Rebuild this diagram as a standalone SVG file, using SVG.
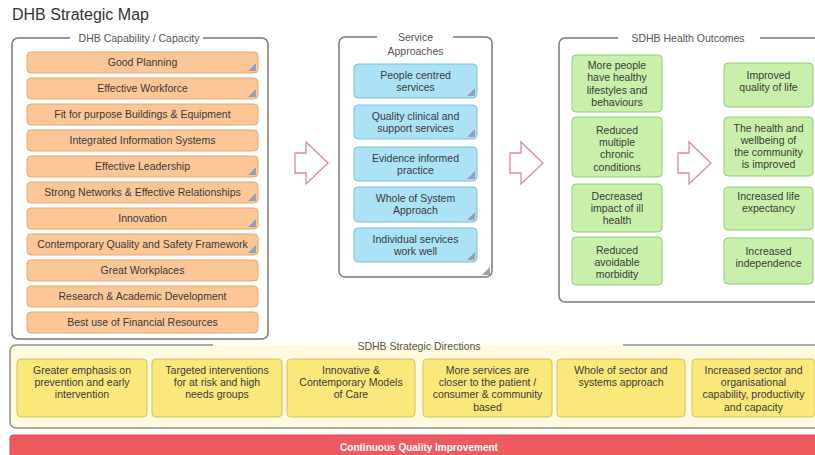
<svg xmlns="http://www.w3.org/2000/svg" xmlns:xlink="http://www.w3.org/1999/xlink" width="815" height="455" viewBox="0 0 815 455">
<style>
text{font-family:"Liberation Sans",Arial,sans-serif;font-size:10.5px;fill:#3a3a3a;text-anchor:middle}
.title{font-size:16px;fill:#333;text-anchor:start}
.ct{fill:#555}
.frame{fill:none;stroke:#7a7a7a;stroke-width:1.5}
.or{fill:#fcc697;stroke:#e3a774;stroke-width:1}
.bl{fill:#abe2f6;stroke:#7cc0db;stroke-width:1}
.gr{fill:#c8f0aa;stroke:#92cd74;stroke-width:1}
.ye{fill:#fbe87a;stroke:#d6c15c;stroke-width:1}
.arr{fill:#fff;stroke:#d98a98;stroke-width:1.3;stroke-linejoin:miter}
.cm{fill:#95a0b4}
.ql{fill:#fff;font-weight:bold;font-size:10px}
</style>
<defs>
<path id="cm" d="M-2,-10 L-2,-2 L-10,-2 Z"/>
</defs>

<text class="title" x="12" y="19.5">DHB Strategic Map</text>

<!-- Left container -->
<g id="capability">
<path class="frame" d="M203,38 H262 A6,6 0 0 1 268,44 V333 A6,6 0 0 1 262,339 H18 A6,6 0 0 1 12,333 V44 A6,6 0 0 1 18,38 H70"/>
<text class="ct" x="139" y="42">DHB Capability / Capacity</text>
</g>
<g id="cap1"><rect class="or" x="27" y="52" width="231" height="21" rx="4"/><text x="142.5" y="66">Good Planning</text><use href="#cm" class="cm" x="258" y="73"/></g>
<g id="cap2"><rect class="or" x="27" y="78" width="231" height="21" rx="4"/><text x="142.5" y="92">Effective Workforce</text><use href="#cm" class="cm" x="258" y="99"/></g>
<g id="cap3"><rect class="or" x="27" y="104" width="231" height="21" rx="4"/><text x="142.5" y="118">Fit for purpose Buildings &amp; Equipment</text></g>
<g id="cap4"><rect class="or" x="27" y="130" width="231" height="21" rx="4"/><text x="142.5" y="144">Integrated Information Systems</text></g>
<g id="cap5"><rect class="or" x="27" y="156" width="231" height="21" rx="4"/><text x="142.5" y="170">Effective Leadership</text><use href="#cm" class="cm" x="258" y="177"/></g>
<g id="cap6"><rect class="or" x="27" y="182" width="231" height="21" rx="4"/><text x="142.5" y="196">Strong Networks &amp; Effective Relationships</text><use href="#cm" class="cm" x="258" y="203"/></g>
<g id="cap7"><rect class="or" x="27" y="208" width="231" height="21" rx="4"/><text x="142.5" y="222">Innovation</text><use href="#cm" class="cm" x="258" y="229"/></g>
<g id="cap8"><rect class="or" x="27" y="234" width="231" height="21" rx="4"/><text x="142.5" y="248">Contemporary Quality and Safety Framework</text><use href="#cm" class="cm" x="258" y="255"/></g>
<g id="cap9"><rect class="or" x="27" y="260" width="231" height="21" rx="4"/><text x="142.5" y="274">Great Workplaces</text></g>
<g id="cap10"><rect class="or" x="27" y="286" width="231" height="21" rx="4"/><text x="142.5" y="300">Research &amp; Academic Development</text></g>
<g id="cap11"><rect class="or" x="27" y="312" width="231" height="21" rx="4"/><text x="142.5" y="326">Best use of Financial Resources</text></g>

<!-- Middle container -->
<g id="service">
<path class="frame" d="M453,37 H486 A6,6 0 0 1 492,43 V271 A6,6 0 0 1 486,277 H345 A6,6 0 0 1 339,271 V43 A6,6 0 0 1 345,37 H377"/>
<text class="ct" x="415.5" y="41">Service</text>
<text class="ct" x="415.5" y="54.5">Approaches</text>
<use href="#cm" class="cm" x="492" y="277"/>
</g>
<g id="sa1"><rect class="bl" x="354" y="64" width="123" height="34" rx="4"/><text x="415.5" y="79">People centred</text><text x="415.5" y="91">services</text><use href="#cm" class="cm" x="477" y="98"/></g>
<g id="sa2"><rect class="bl" x="354" y="105" width="123" height="34" rx="4"/><text x="415.5" y="120">Quality clinical and</text><text x="415.5" y="132">support services</text><use href="#cm" class="cm" x="477" y="139"/></g>
<g id="sa3"><rect class="bl" x="354" y="147" width="123" height="34" rx="4"/><text x="415.5" y="162">Evidence informed</text><text x="415.5" y="174">practice</text><use href="#cm" class="cm" x="477" y="181"/></g>
<g id="sa4"><rect class="bl" x="354" y="187" width="123" height="35" rx="4"/><text x="415.5" y="202">Whole of System</text><text x="415.5" y="214">Approach</text><use href="#cm" class="cm" x="477" y="222"/></g>
<g id="sa5"><rect class="bl" x="354" y="228" width="123" height="34" rx="4"/><text x="415.5" y="243">Individual services</text><text x="415.5" y="255">work well</text><use href="#cm" class="cm" x="477" y="262"/></g>

<!-- Right container -->
<g id="outcomes">
<path class="frame" d="M760,38 H814 A6,6 0 0 1 820,44 V296 A6,6 0 0 1 814,302 H565 A6,6 0 0 1 559,296 V44 A6,6 0 0 1 565,38 H618"/>
<text class="ct" x="688" y="42">SDHB Health Outcomes</text>
</g>
<g id="ho1"><rect class="gr" x="572" y="55" width="90" height="57" rx="4"/><text x="617" y="69">More people</text><text x="617" y="81.3">have healthy</text><text x="617" y="93.6">lifestyles and</text><text x="617" y="105.9">behaviours</text></g>
<g id="ho2"><rect class="gr" x="572" y="117" width="90" height="60" rx="4"/><text x="617" y="134">Reduced</text><text x="617" y="146">multiple</text><text x="617" y="158">chronic</text><text x="617" y="170.5">conditions</text></g>
<g id="ho3"><rect class="gr" x="572" y="184" width="90" height="48" rx="4"/><text x="617" y="199.5">Decreased</text><text x="617" y="211.8">impact of ill</text><text x="617" y="224">health</text></g>
<g id="ho4"><rect class="gr" x="572" y="237" width="90" height="48" rx="4"/><text x="617" y="254">Reduced</text><text x="617" y="266">avoidable</text><text x="617" y="278">morbidity</text></g>
<g id="ho5"><rect class="gr" x="724" y="63" width="89" height="44" rx="4"/><text x="768.5" y="79">Improved</text><text x="768.5" y="91">quality of life</text></g>
<g id="ho6"><rect class="gr" x="724" y="117" width="89" height="59" rx="4"/><text x="768.5" y="132">The health and</text><text x="768.5" y="144">wellbeing of</text><text x="768.5" y="156">the community</text><text x="768.5" y="168">is improved</text></g>
<g id="ho7"><rect class="gr" x="724" y="187" width="89" height="43" rx="4"/><text x="768.5" y="200">Increased  life</text><text x="768.5" y="212">expectancy</text></g>
<g id="ho8"><rect class="gr" x="724" y="238" width="89" height="46" rx="4"/><text x="768.5" y="255">Increased</text><text x="768.5" y="266.5">independence</text></g>

<!-- Strategic directions -->
<g id="directions">
<rect x="10" y="345" width="816" height="83" rx="6" fill="#fdfadf"/>
<path d="M623,345 H820 A6,6 0 0 1 826,351 V422 A6,6 0 0 1 820,428 H16 A6,6 0 0 1 10,422 V351 A6,6 0 0 1 16,345 H213" fill="none" stroke="#8e8e8e" stroke-width="1.5"/>
<text class="ct" x="419" y="349.5">SDHB Strategic Directions</text>
</g>
<g id="sd1"><rect class="ye" x="17" y="359" width="130" height="58" rx="4"/><text x="82" y="373.7">Greater emphasis on</text><text x="82" y="386">prevention and early</text><text x="82" y="398.3">intervention</text></g>
<g id="sd2"><rect class="ye" x="152" y="359" width="130" height="58" rx="4"/><text x="217" y="373.7">Targeted interventions</text><text x="217" y="386">for at risk and high</text><text x="217" y="398.3">needs groups</text></g>
<g id="sd3"><rect class="ye" x="287" y="359" width="128" height="58" rx="4"/><text x="351" y="373.7">Innovative &amp;</text><text x="351" y="386">Contemporary Models</text><text x="351" y="398.3">of Care</text></g>
<g id="sd4"><rect class="ye" x="423" y="359" width="129" height="58" rx="4"/><text x="487.5" y="373.7">More services are</text><text x="487.5" y="386">closer to the patient /</text><text x="487.5" y="398.3">consumer &amp; community</text><text x="487.5" y="410.6">based</text></g>
<g id="sd5"><rect class="ye" x="557" y="359" width="128" height="58" rx="4"/><text x="621" y="373.7">Whole of sector and</text><text x="621" y="386">systems approach</text></g>
<g id="sd6"><rect class="ye" x="692" y="359" width="123" height="58" rx="4"/><text x="753.5" y="373.7">Increased sector and</text><text x="753.5" y="386">organisational</text><text x="753.5" y="398.3">capability, productivity</text><text x="753.5" y="410.6">and capacity</text></g>

<!-- Continuous Quality Improvement -->
<g id="cqi">
<rect x="10" y="435" width="815" height="26" rx="3" fill="#ee5a5d" stroke="#e04a4e" stroke-width="1"/>
<text class="ql" x="419" y="451">Continuous Quality Improvement</text>
</g>

<!-- Connectors (block arrows) -->
<g id="connectors">
<path class="arr" d="M295,153 H306 V142 L328,163 L306,184 V173 H295 Z"/>
<path class="arr" d="M510,153 H521 V142 L543,163 L521,184 V173 H510 Z"/>
<path class="arr" d="M678,153 H689 V142 L711,163 L689,184 V173 H678 Z"/>
</g>
</svg>
